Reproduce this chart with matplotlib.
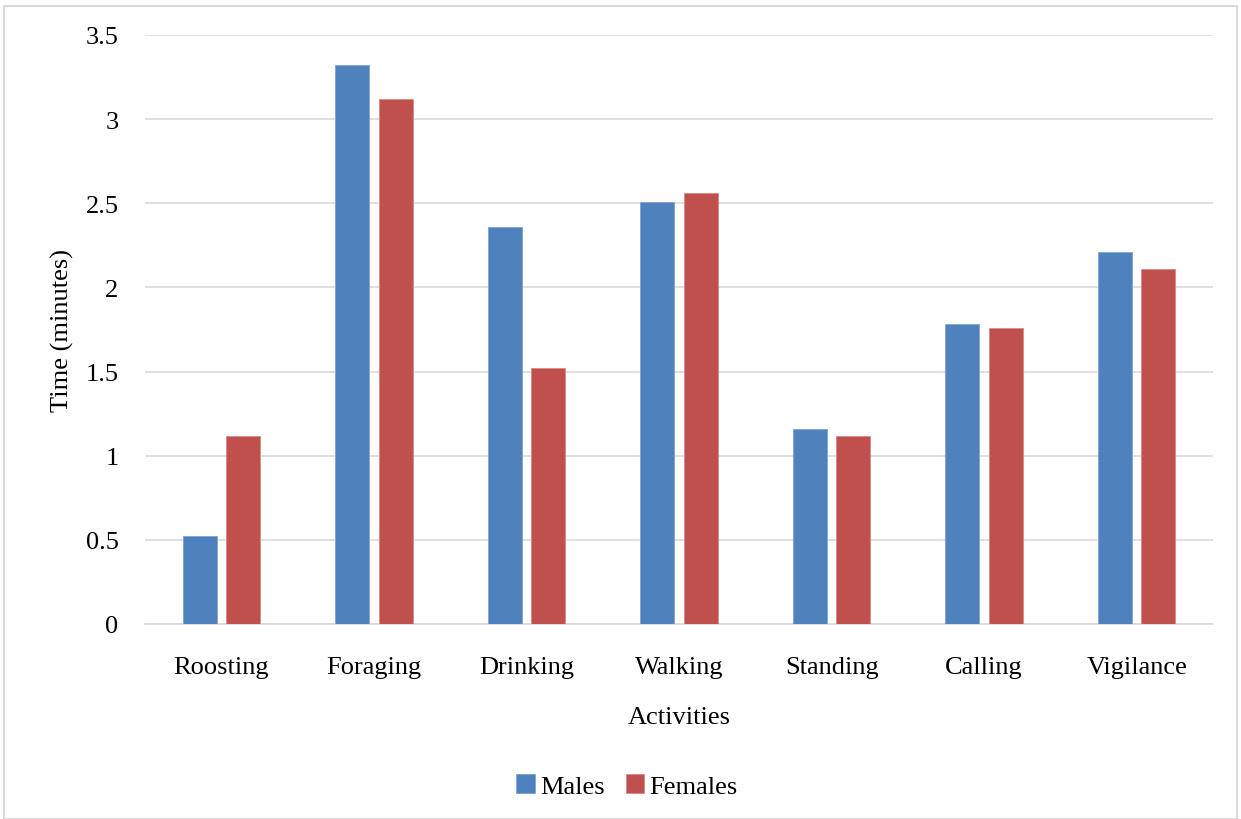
import numpy as np
import matplotlib.pyplot as plt
from matplotlib.patches import Rectangle

activities = ["Roosting", "Foraging", "Drinking", "Walking", "Standing", "Calling", "Vigilance"]
males = [0.52, 3.32, 2.36, 2.51, 1.16, 1.78, 2.21]
females = [1.12, 3.12, 1.52, 2.56, 1.12, 1.76, 2.11]

plt.rcParams["font.family"] = ["Liberation Serif", "DejaVu Serif"]

fig = plt.figure(figsize=(12.41, 8.2), dpi=100)
ax = fig.add_axes([145 / 1241, 1 - 625 / 820, (1213 - 145) / 1241, (625 - 36) / 820])

x = np.arange(len(activities))
w = 0.223
ax.bar(x - 0.142, males, w, color="#4F81BD", edgecolor="#7FA3D1", linewidth=0.6, label="Males", zorder=3)
ax.bar(x + 0.142, females, w, color="#C0504D", edgecolor="#D98A88", linewidth=0.6, label="Females", zorder=3)

ax.set_xlim(-0.5, len(activities) - 0.5)
ax.set_ylim(0, 3.5)
ax.set_yticks(np.arange(0, 3.51, 0.5))
ax.set_yticklabels(["0", "0.5", "1", "1.5", "2", "2.5", "3", "3.5"])
ax.set_xticks(x)
ax.set_xticklabels(activities)
ax.yaxis.grid(True, color="#d9d9d9", linewidth=1.2, zorder=0)
for s in ["top", "right", "left"]:
    ax.spines[s].set_visible(False)
ax.spines["bottom"].set_color("#d9d9d9")
ax.spines["bottom"].set_linewidth(1.2)
ax.tick_params(axis="both", length=0, labelsize=19, colors="black")
ax.tick_params(axis="y", pad=19)
ax.tick_params(axis="x", pad=23)

ax.set_xlabel("Activities", fontsize=19, labelpad=20)
ax.set_ylabel("Time (minutes)", fontsize=19, labelpad=8)

fig.legend(loc="center", bbox_to_anchor=(627 / 1241, 1 - 787 / 820), ncol=2, frameon=False,
           fontsize=19, handlelength=0.7, handleheight=0.7, handletextpad=0.2, columnspacing=0.8)

fig.patches.append(Rectangle((4 / 1241, 0), (1237 - 4) / 1241, 1 - 7 / 820, transform=fig.transFigure,
                             fill=False, edgecolor="#d9d9d9", linewidth=1.5))

fig.savefig("out.png", dpi=100)
